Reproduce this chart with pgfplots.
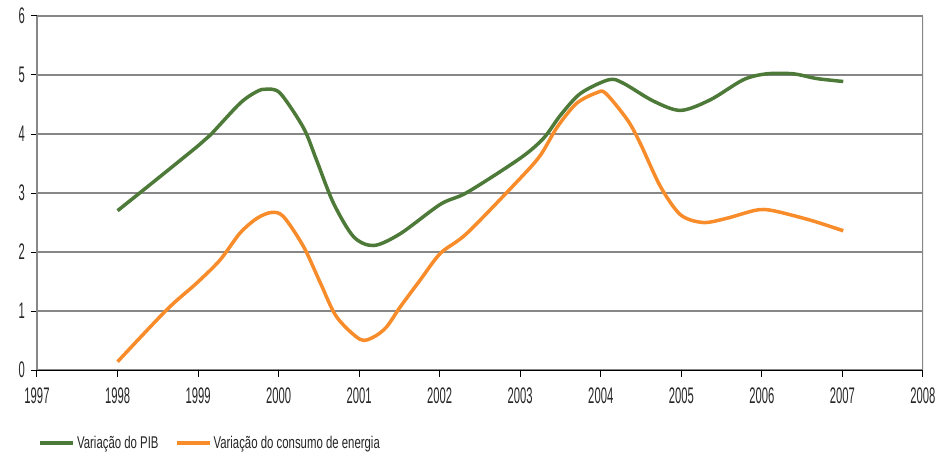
\documentclass[border=0pt]{standalone}
\usepackage{fontspec}
\setmainfont{Liberation Sans}
\usepackage{graphicx}
\usepackage{pgfplots}
\pgfplotsset{compat=1.18}
\usepackage{pgfplotstable}

\definecolor{pibgreen}{RGB}{77,122,56}
\definecolor{energyorange}{RGB}{248,140,42}
\definecolor{gridgray}{RGB}{135,135,135}

% narrow text for labels
\newcommand{\narrow}[2]{\scalebox{#1}[1]{#2}}

% Variação anual do PIB
\pgfplotstableread{
x y
1998.00 2.70
1998.53 3.28
1999.00 3.80
1999.15 3.98
1999.52 4.52
1999.73 4.72
1999.85 4.76
2000.02 4.69
2000.31 4.10
2000.47 3.56
2000.68 2.83
2000.93 2.26
2001.18 2.11
2001.51 2.31
2002.01 2.81
2002.34 3.01
2003.00 3.59
2003.29 3.93
2003.50 4.32
2003.75 4.69
2004.10 4.92
2004.28 4.86
2004.65 4.56
2004.99 4.40
2005.36 4.58
2005.77 4.92
2006.06 5.02
2006.39 5.02
2006.68 4.94
2007.01 4.89
}\pibdata

% Variação anual do consumo de energia
\pgfplotstableread{
x y
1998.00 0.14
1998.61 1.02
1998.98 1.47
1999.27 1.86
1999.52 2.32
1999.73 2.57
1999.91 2.67
2000.06 2.60
2000.31 2.09
2000.52 1.47
2000.72 0.90
2001.01 0.52
2001.18 0.56
2001.34 0.73
2001.51 1.07
2001.76 1.53
2002.01 1.98
2002.34 2.32
2003.00 3.25
2003.25 3.64
2003.46 4.12
2003.70 4.52
2003.95 4.70
2004.06 4.69
2004.33 4.24
2004.49 3.84
2004.74 3.11
2004.99 2.63
2005.27 2.50
2005.56 2.57
2005.93 2.71
2006.14 2.70
2006.60 2.54
2007.01 2.36
}\energydata

\begin{document}
\begin{tikzpicture}
\begin{axis}[
  name=ax,
  scale only axis,
  width=886pt, height=354pt,
  xmin=1997, xmax=2008,
  ymin=0, ymax=6,
  xtick={1997,...,2008},
  ytick={0,...,6},
  axis x line*=bottom,
  axis y line*=left,
  x axis line style={draw=black, line width=1pt},
  y axis line style={draw=gridgray, line width=1.2pt},
  tick align=outside,
  major tick length=6.5pt,
  tick style={draw=black, line width=1pt},
  ymajorgrids,
  grid style={draw=gridgray, line width=1.2pt},
  /pgf/number format/1000 sep={},
  /pgf/number format/assume math mode=true,
  ticklabel style={font=\fontsize{22.5}{22.5}\selectfont, text=black!85},
  xticklabel={\narrow{0.5}{\pgfmathprintnumber{\tick}}},
  yticklabel={\narrow{0.5}{\pgfmathprintnumber{\tick}}},
  xticklabel style={yshift=-8pt},
  yticklabel style={xshift=-2pt},
  legend columns=2,
  legend style={draw=none, fill=none, at={(0.001,-0.207)}, anchor=west,
    inner sep=0pt, column sep=14pt,
    font=\fontsize{17}{17}\selectfont, text=black!85,
    /tikz/every odd column/.append style={column sep=0pt}},
  legend image code/.code={\draw[#1, line width=4pt] (0pt,0pt) -- (33pt,0pt);},
  legend cell align=left,
]
\draw[gridgray, line width=1.2pt] (rel axis cs:1,0) -- (rel axis cs:1,1);
\addplot[pibgreen, line width=3.5pt, smooth, tension=0.5] table {\pibdata};
\addlegendentry{\narrow{0.67}{Variação do PIB}}
\addplot[energyorange, line width=3.5pt, smooth, tension=0.5] table {\energydata};
\addlegendentry{\narrow{0.67}{Variação do consumo de energia}}
\end{axis}
\pgfresetboundingbox
\path[use as bounding box] ([shift={(-37pt,-85pt)}]ax.south west) rectangle ([shift={(15pt,16pt)}]ax.north east);
\end{tikzpicture}
\end{document}
